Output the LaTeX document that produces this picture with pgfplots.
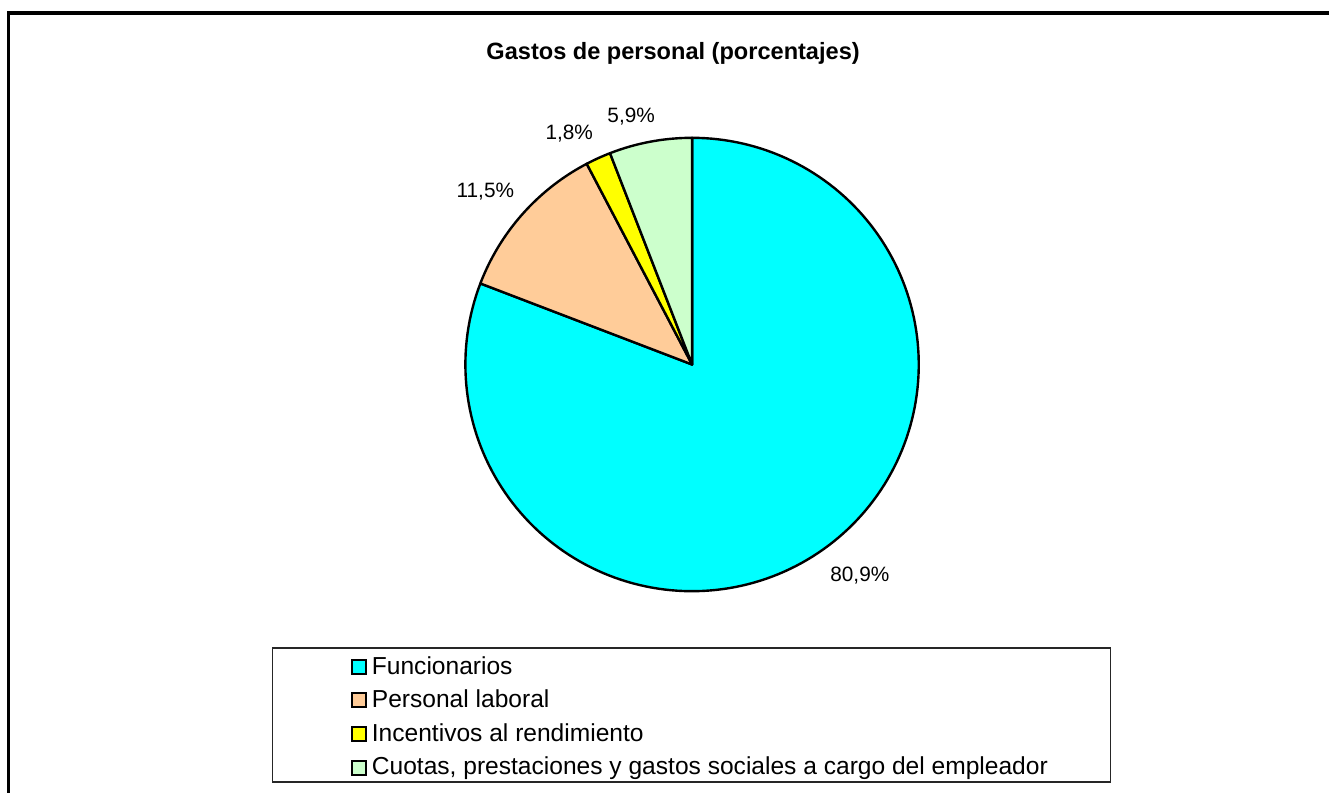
\documentclass[border=0pt]{standalone}
\usepackage{fontspec}
\setmainfont{Liberation Sans}
\usepackage{pgfplots}
\pgfplotsset{compat=1.18}
\definecolor{funcio}{HTML}{00FFFF}
\definecolor{laboral}{HTML}{FFCC99}
\definecolor{incent}{HTML}{FFFF00}
\definecolor{cuotas}{HTML}{CCFFCC}

% shares (%)
\def\vA{80.9}
\def\vB{11.5}
\def\vC{1.8}
\def\vD{5.9}
\pgfmathsetmacro\tot{\vA+\vB+\vC+\vD}
% slices run clockwise from 12 o'clock
\pgfmathsetmacro\aO{90}
\pgfmathsetmacro\aA{\aO-360*(\vA/\tot)}
\pgfmathsetmacro\aB{\aA-360*(\vB/\tot)}
\pgfmathsetmacro\aC{\aB-360*(\vC/\tot)}
\pgfmathsetmacro\aD{\aC-360*(\vD/\tot)}
% pie centre and radius (canvas units)
\def\cx{693}
\def\cy{365}
\def\R{227}

\newcommand\legitem[3]{%
  \draw[fill=#2, line width=1pt] (axis cs:352,#1-7) rectangle (axis cs:366,#1+7);
  \node[anchor=base west, inner sep=0pt, font=\fontsize{12.3}{14}\selectfont] at (axis cs:372,#1+7) {#3};
}

\begin{document}
\begin{tikzpicture}
\begin{axis}[
  scale only axis, width=665.5pt, height=397pt,
  xmin=0, xmax=1331, ymin=0, ymax=794, y dir=reverse,
  hide axis, clip=false,
  every axis plot/.append style={draw=black, line width=1.2pt, line join=round},
]
\path (axis cs:0,0) rectangle (axis cs:1331,794);
% outer frame
\draw[line width=1.8pt] (axis cs:8.5,794) -- (axis cs:8.5,13) -- (axis cs:1331,13);

\addplot[fill=funcio, domain=\aA:\aO, samples=180] ({\cx+\R*cos(x)},{\cy-\R*sin(x)}) -- (axis cs:\cx,\cy) -- cycle;
\addplot[fill=laboral, domain=\aB:\aA, samples=40] ({\cx+\R*cos(x)},{\cy-\R*sin(x)}) -- (axis cs:\cx,\cy) -- cycle;
\addplot[fill=incent, domain=\aC:\aB, samples=10] ({\cx+\R*cos(x)},{\cy-\R*sin(x)}) -- (axis cs:\cx,\cy) -- cycle;
\addplot[fill=cuotas, domain=\aD:\aC, samples=25] ({\cx+\R*cos(x)},{\cy-\R*sin(x)}) -- (axis cs:\cx,\cy) -- cycle;

% title and data labels
\node[font=\fontsize{11.8}{14}\selectfont\bfseries] at (axis cs:674,53) {Gastos de personal (porcentajes)};
\begin{scope}[every node/.style={font=\fontsize{10.4}{12}\selectfont}]
\node at (axis cs:861,576) {80,9\%};
\node at (axis cs:486,192) {11,5\%};
\node at (axis cs:570,134) {1,8\%};
\node at (axis cs:632,117) {5,9\%};
\end{scope}

% legend
\draw[line width=0.8pt, black!85] (axis cs:273,649) rectangle (axis cs:1112,783);
\legitem{668}{funcio}{Funcionarios}
\legitem{701}{laboral}{Personal laboral}
\legitem{735}{incent}{Incentivos al rendimiento}
\legitem{769}{cuotas}{Cuotas, prestaciones y gastos sociales a cargo del empleador}
\end{axis}
\end{tikzpicture}
\end{document}
